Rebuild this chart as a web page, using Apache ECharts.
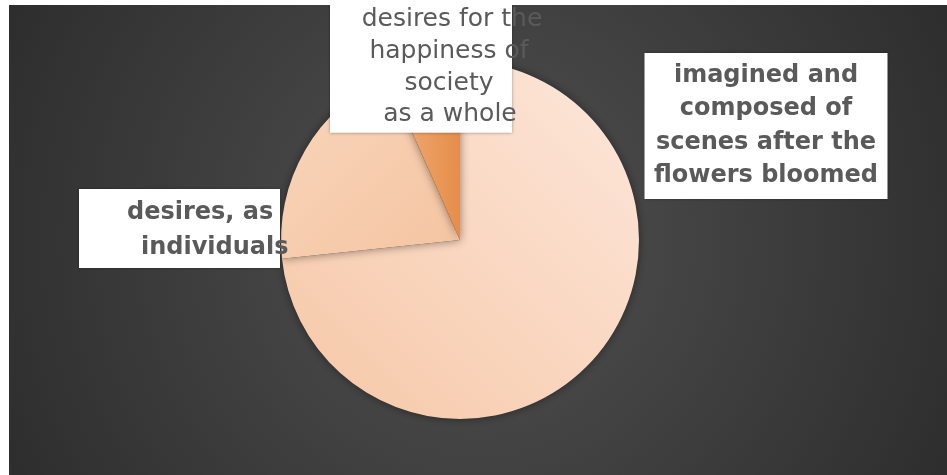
<!DOCTYPE html>
<html>
<head>
<meta charset="utf-8">
<script src="https://cdn.jsdelivr.net/npm/echarts@6/dist/echarts.min.js"></script>
<style>
  html, body { margin: 0; padding: 0; background: #ffffff; }
  #chart { position: absolute; left: 9px; top: 5px; width: 938px; height: 470px; }
</style>
</head>
<body>
<div id="chart"></div>
<script>
// ---- data ----
const categories = [
  'imagined and composed of scenes after the flowers bloomed',
  'desires, as individuals',
  'desires for the happiness of society as a whole'
];
const values = [11, 3, 1];
const labelLines = [
  ['imagined and', 'composed of', 'scenes after the', 'flowers bloomed'],
  ['desires, as', 'individuals'],
  ['desires for the', 'happiness of', 'society', 'as a whole']
];

// ---- styles ----
const sliceColors = [
  { x: 1, y: 0, x2: 0, y2: 1, stops: ['#fde7db', '#f6c7a6'] },
  { x: 0, y: 0, x2: 1, y2: 1, stops: ['#f9d6bc', '#f4c4a1'] },
  { x: 0, y: 0, x2: 1, y2: 0, stops: ['#f2b07c', '#e68d4a'] }
];

function grad(c) {
  return {
    type: 'linear', x: c.x, y: c.y, x2: c.x2, y2: c.y2,
    colorStops: [{ offset: 0, color: c.stops[0] }, { offset: 1, color: c.stops[1] }]
  };
}

const textColor = '#5a5a5a';
const labelDefs = [
  { // big slice label (right)
    x: 757, y: 48, align: 'center', width: 243, padding: [6, 0, 6, 0],
    lineHeight: 33.5, bold: true, fontSize: 24,
    tokenAlign: 'center', tokenPad: [0, 0, 0, 0]
  },
  { // individuals (left)
    x: 70, y: 184, align: 'left', width: 201, padding: [6, 0, 3, 0],
    lineHeight: 35, bold: true, fontSize: 24,
    tokenAlign: 'left', tokenPad: [48, 62]
  },
  { // society (top)
    x: 321, y: -1, align: 'left', width: 182, padding: [0, 0, 2, 0],
    lineHeight: 31.7, bold: false, fontSize: 25,
    tokenAlign: 'center', tokenPad: [62, 56, 56, 58]
  }
];

const data = categories.map((name, i) => {
  const d = labelDefs[i];
  const rich = {};
  const parts = labelLines[i].map((ln, k) => {
    const key = 't' + k;
    const pl = d.tokenPad[k] || 0;
    rich[key] = {
      fontFamily: 'DejaVu Sans',
      fontSize: d.fontSize,
      fontWeight: d.bold ? 'bold' : 'normal',
      color: textColor,
      lineHeight: d.lineHeight,
      align: d.tokenAlign,
      padding: [0, 0, 0, pl]
    };
    return '{' + key + '|' + ln + '}';
  });
  return {
    name: name,
    value: values[i],
    itemStyle: { color: grad(sliceColors[i]) },
    label: {
      show: true,
      formatter: parts.join('\n'),
      rich: rich,
      backgroundColor: '#ffffff',
      width: d.width,
      overflow: 'none',
      padding: d.padding,
      lineHeight: d.lineHeight,
      align: d.align,
      shadowBlur: 3,
      shadowColor: 'rgba(0,0,0,0.35)'
    }
  };
});

const chart = echarts.init(document.getElementById('chart'), null, { renderer: 'canvas' });
chart.setOption({
  animation: false,
  backgroundColor: {
    type: 'radial', x: 0.5, y: 0.5, r: 1.1,
    colorStops: [
      { offset: 0, color: '#515151' },
      { offset: 1, color: '#2e2e2e' }
    ]
  },
  series: [{
    type: 'pie',
    center: [451, 235],
    radius: [0, 179],
    startAngle: 90,
    clockwise: true,
    data: data,
    label: { position: 'outside' },
    labelLine: { show: false },
    itemStyle: {
      borderWidth: 0,
      shadowBlur: 10,
      shadowColor: 'rgba(0,0,0,0.45)'
    },
    emphasis: { disabled: true },
    labelLayout: function (params) {
      const d = labelDefs[params.dataIndex];
      return { x: d.x, y: d.y, align: d.align, verticalAlign: 'top', hideOverlap: false, moveOverlap: null };
    }
  }]
});
</script>
</body>
</html>
